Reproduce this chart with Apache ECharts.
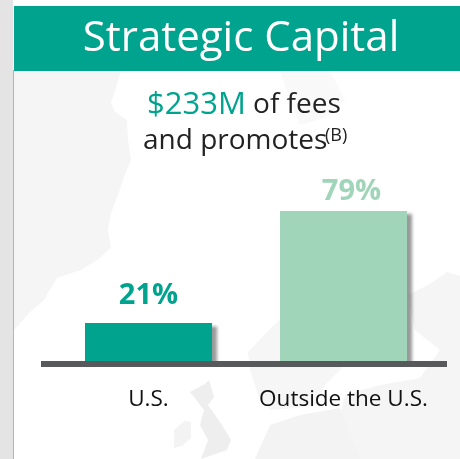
<!DOCTYPE html>
<html>
<head>
<meta charset="utf-8">
<style>html,body{margin:0;padding:0;background:#fff}#c{width:460px;height:459px}</style>
<script src="https://cdn.jsdelivr.net/npm/echarts@6/dist/echarts.min.js"></script>
</head>
<body>
<div id="c"></div>
<script>
const categories = ['U.S.', 'Outside the U.S.'];
const shares = [21, 79];
const barColors = ['#00A38D', '#A0D5B9'];
const labelDistance = [13, 5];
const labelShiftX = [0, 8];
const FONT = '"Open Sans","Noto Sans",sans-serif';
const chart = echarts.init(document.getElementById('c'), null, {renderer: 'canvas'});
const land = [
  {fill: '#F5F5F5', points: [[14,330],[30,312],[44,300],[57,278],[81,270],[100,258],[111,247],[108,230],[111,213],[118,195],[124,177],[131,160],[128,140],[127,120],[115,112],[111,103],[121,71],[14,71]]},
  {fill: '#F9F9F9', points: [[280,71],[330,71],[345,100],[325,118],[300,125],[290,100]]},
  {fill: '#F6F6F6', points: [[248,352],[273,326],[285,315],[330,310],[345,365],[325,385],[316,405],[295,408],[270,410],[258,395],[250,370]]},
  {fill: '#F5F5F5', points: [[408,295],[430,284],[447,272],[460,276],[460,459],[330,459],[345,395],[380,385],[420,378],[440,350],[415,330]]},
  {fill: '#F3F3F3', points: [[255,459],[270,425],[300,415],[340,408],[360,459]]},
  {fill: '#EEEEEE', points: [[190,392],[205,384],[209,380],[214,397],[208,405],[222,425],[231,440],[227,450],[201,459],[208,440],[200,425],[204,410]]},
  {fill: '#F3F3F3', points: [[174,430],[184,421],[191,422],[191,438],[182,446],[174,448]]}
];
chart.setOption({
  animation: false,
  backgroundColor: '#ffffff',
  grid: {left: 51, right: 19, top: 211, bottom: 98},
  xAxis: {
    type: 'category', data: categories,
    axisLine: {show: false}, axisTick: {show: false},
    axisLabel: {interval: 0, color: '#111111', fontFamily: FONT, fontSize: 22.5, margin: 27}
  },
  yAxis: {type: 'value', min: 1.3, max: 79, show: false, splitLine: {show: false}},
  series: [{
    type: 'bar', barWidth: 127, z: 3,
    data: shares.map((v, i) => ({
      value: v,
      itemStyle: {color: barColors[i], shadowColor: 'rgba(70,70,70,0.55)', shadowBlur: 3, shadowOffsetX: 5, shadowOffsetY: 3},
      label: {color: barColors[i], distance: labelDistance[i], offset: [labelShiftX[i], 0]}
    })),
    label: {show: true, position: 'top', formatter: '{c}%', fontFamily: FONT, fontWeight: 700, fontSize: 29}
  }],
  graphic: [
    {type: 'rect', z: 0, shape: {x: 0, y: 0, width: 13, height: 459}, style: {fill: '#E4E4E4'}},
    {type: 'rect', z: 0, shape: {x: 13, y: 70, width: 1, height: 389}, style: {fill: '#B5B5B5'}},
    ...land.map(p => ({type: 'polygon', z: 0, shape: {points: p.points}, style: {fill: p.fill}})),
    {type: 'rect', z: 5, shape: {x: 14, y: 6, width: 446, height: 65}, style: {fill: '#00A38D'}},
    {type: 'text', z: 6, x: 241, y: 39, style: {text: 'Strategic Capital', fill: '#fff', font: '42px ' + FONT, align: 'center', verticalAlign: 'middle'}},
    {type: 'text', z: 6, x: 147, y: 105, style: {
      text: '{a|$233M} {b|of fees}', verticalAlign: 'middle', font: '28px ' + FONT,
      rich: {a: {fill: '#00A38D', fontFamily: FONT, fontSize: 31}, b: {fill: '#222222', fontFamily: FONT, fontSize: 28}}
    }},
    {type: 'text', z: 6, x: 143, y: 141, style: {text: 'and promotes', fill: '#222222', font: '28px ' + FONT, verticalAlign: 'middle'}},
    {type: 'text', z: 6, x: 325, y: 136, style: {text: '(B)', fill: '#222222', font: '18px ' + FONT, verticalAlign: 'middle'}},
    {type: 'rect', z: 7, shape: {x: 41, y: 361, width: 406, height: 6}, style: {fill: '#58595B'}}
  ]
});
</script>
</body>
</html>
